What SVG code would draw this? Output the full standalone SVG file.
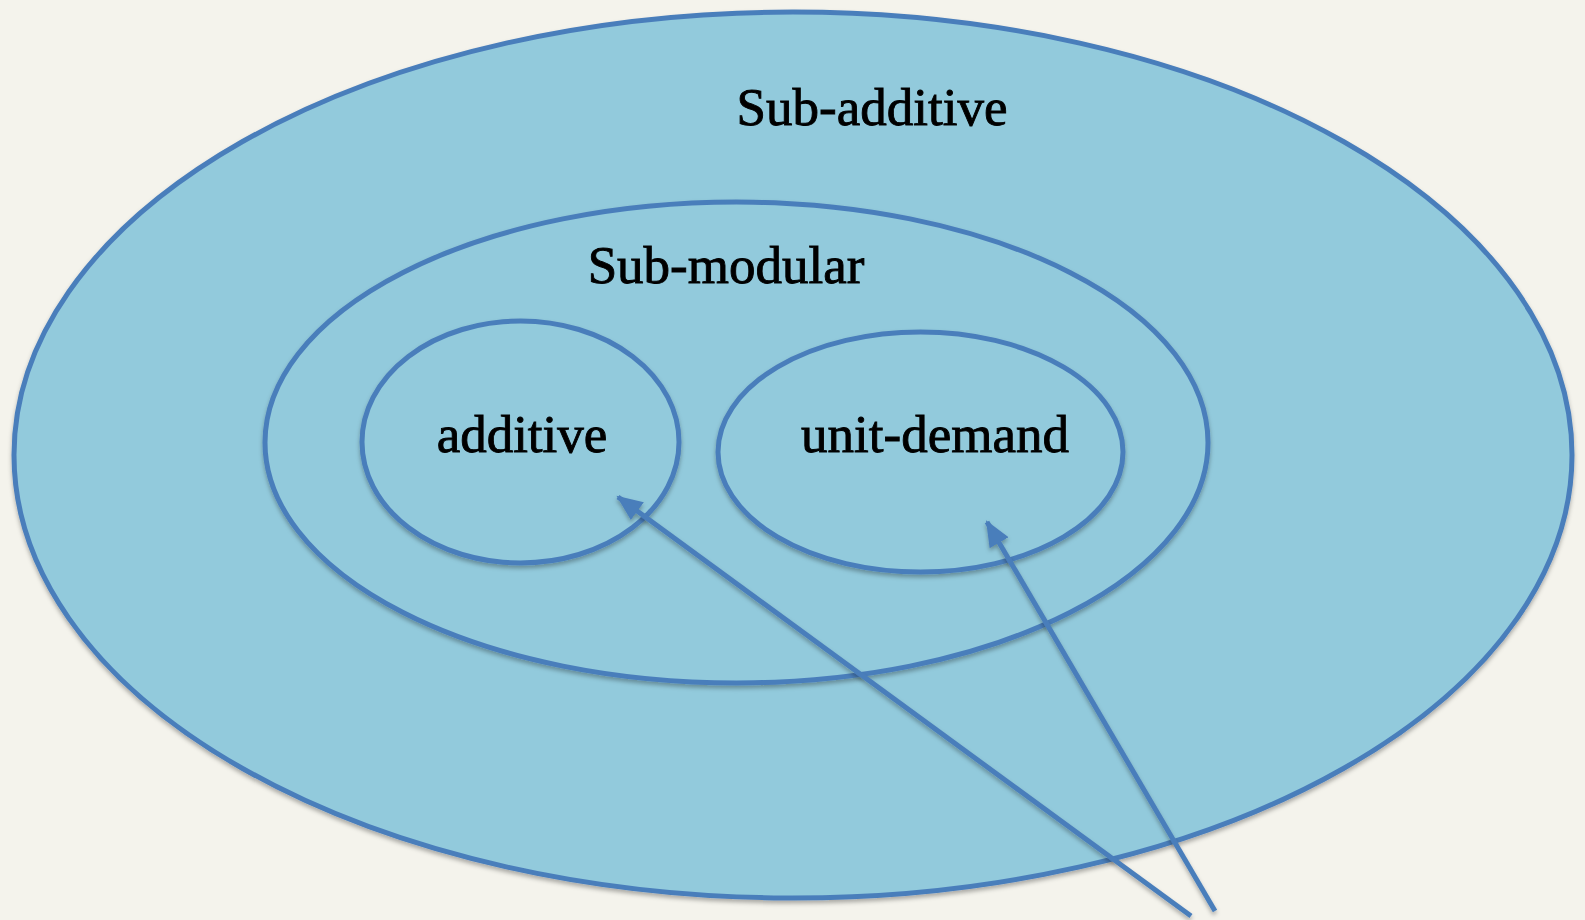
<svg xmlns="http://www.w3.org/2000/svg" width="1585" height="920" viewBox="0 0 1585 920">
<style>
.set{fill:#92cadc;stroke:#4a7ebb;stroke-width:5;filter:url(#sh)}
.lbl{font-family:"Liberation Serif","Times New Roman",serif;font-size:53px;fill:#000;stroke:#000;stroke-width:0.9;text-anchor:middle}
.arr{fill:none;stroke:#4a7ebb;stroke-width:5;marker-end:url(#ah);filter:url(#sh)}
</style>
<defs>
<filter id="sh" x="-10%" y="-10%" width="120%" height="120%">
<feDropShadow dx="0" dy="3" stdDeviation="2" flood-color="#000" flood-opacity="0.3"/>
</filter>
<marker id="ah" markerUnits="userSpaceOnUse" markerWidth="28" markerHeight="24" refX="24" refY="11" orient="auto">
<path d="M0,0 L26,11 L0,22 Z" fill="#4a7ebb"/>
</marker>
</defs>
<rect width="1585" height="920" fill="#f4f3ec"/>
<g id="subadditive">
<ellipse class="set" cx="793" cy="455" rx="779" ry="443"/>
<text class="lbl" x="872" y="125">Sub-additive</text>
</g>
<g id="submodular">
<ellipse class="set" cx="736.5" cy="442.5" rx="471.5" ry="240.5"/>
<text class="lbl" x="726" y="283">Sub-modular</text>
</g>
<g id="additive">
<ellipse class="set" cx="520.5" cy="442" rx="158.5" ry="121"/>
<text class="lbl" x="522" y="452">additive</text>
</g>
<g id="unitdemand">
<ellipse class="set" cx="920.5" cy="452" rx="202.5" ry="120"/>
<text class="lbl" x="935" y="452">unit-demand</text>
</g>
<g id="connectors">
<line class="arr" x1="1191" y1="916" x2="618" y2="497"/>
<line class="arr" x1="1215" y1="911" x2="987" y2="522"/>
</g>
</svg>
